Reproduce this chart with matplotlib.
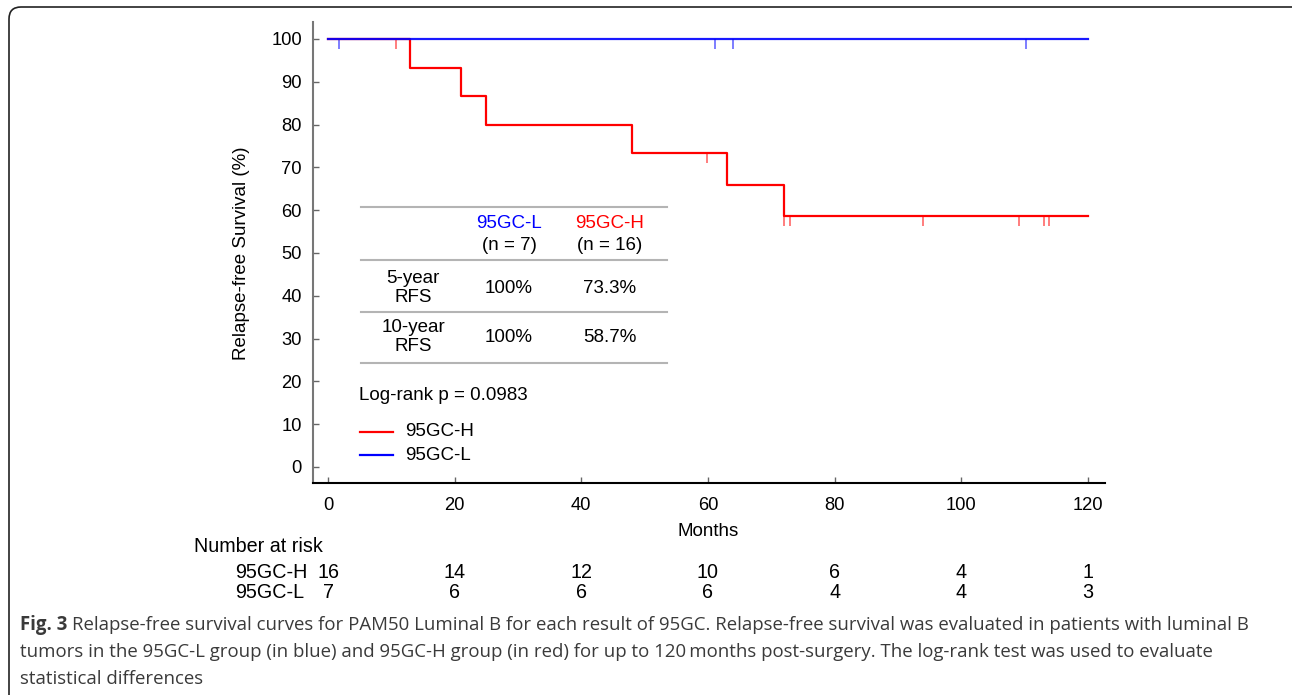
import matplotlib
matplotlib.use("Agg")
import matplotlib.pyplot as plt
from matplotlib.lines import Line2D
from matplotlib.patches import FancyBboxPatch
from matplotlib.transforms import IdentityTransform, blended_transform_factory

# --- data ---
h_times = [0, 13, 21, 25, 48, 63, 72, 120]
h_surv = [100, 93.3, 86.7, 80.0, 73.3, 66.0, 58.7, 58.7]
h_cens_t = [10.8, 59.9, 72, 73, 94, 109.1, 113, 113.9]
h_cens_s = [100, 73.3, 58.7, 58.7, 58.7, 58.7, 58.7, 58.7]

l_times = [0, 120]
l_surv = [100, 100]
l_cens_t = [1.7, 61.1, 64, 110.2]
l_cens_s = [100, 100, 100, 100]

risk_times = [0, 20, 40, 60, 80, 100, 120]
risk_h = [16, 14, 12, 10, 6, 4, 1]
risk_l = [7, 6, 6, 6, 4, 4, 3]

tab_groups = ["95GC-L", "95GC-H"]
tab_n = ["(n = 7)", "(n = 16)"]
tab_rows = ["5-year\nRFS", "10-year\nRFS"]
tab_vals = [["100%", "73.3%"], ["100%", "58.7%"]]
logrank = "Log-rank p = 0.0983"

caption = ["Relapse-free survival curves for PAM50 Luminal B for each result of 95GC. Relapse-free survival was evaluated in patients with luminal B",
           "tumors in the 95GC-L group (in blue) and 95GC-H group (in red) for up to 120\u2009months post-surgery. The log-rank test was used to evaluate",
           "statistical differences"]

RED = "#FF0000"; BLUE = "#0000FF"; GRAY = "#B4B4B4"
W, H = 1292, 695
plt.rcParams.update({"font.family": ["Liberation Sans", "DejaVu Sans"], "font.size": 13.5})

def px(x, y):
    return x / W, 1 - y / H

fig = plt.figure(figsize=(W / 100, H / 100), dpi=100)
ax = fig.add_axes([313 / W, 1 - 483 / H, (1105 - 313) / W, (483 - 22) / H])

ax.step(h_times, h_surv, where="post", color=RED, lw=1.6, zorder=3)
ax.step(l_times, l_surv, where="post", color=BLUE, lw=1.6, alpha=0.9, zorder=4)
ax.vlines(h_cens_t, [s - 2.3 for s in h_cens_s], h_cens_s, color=RED, alpha=0.55, lw=1.3)
ax.vlines(l_cens_t, [s - 2.3 for s in l_cens_s], l_cens_s, color=BLUE, alpha=0.55, lw=1.3)

ax.set_xlim(-2.37, 122.7); ax.set_ylim(-3.74, 103.97)
ax.set_xticks(range(0, 121, 20)); ax.set_yticks(range(0, 101, 10))
ax.tick_params(direction="in", length=4, width=1, colors="#666666", labelcolor="black", labelsize=13.2)
ax.tick_params(axis="x", pad=10); ax.tick_params(axis="y", pad=8)
for s in ("top", "right"): ax.spines[s].set_visible(False)
ax.spines["left"].set_color("#777777"); ax.spines["left"].set_linewidth(1.5)
ax.spines["bottom"].set_color("black"); ax.spines["bottom"].set_linewidth(1.5)

fig.text(*px(242, 253), "Relapse-free Survival (%)", rotation=90, ha="center", va="center")
fig.text(*px(708, 532), "Months", ha="center", va="center")

# inset table
for y in (207, 260, 312, 363):
    fig.add_artist(Line2D([361 / W, 667 / W], [1 - y / H] * 2, color=GRAY, lw=1.5))
col_x = [509, 610]
for i, g in enumerate(tab_groups):
    fig.text(*px(col_x[i], 224), g, ha="center", va="center", color=[BLUE, RED][i])
    fig.text(*px(col_x[i], 245), tab_n[i], ha="center", va="center")
for r, ry in enumerate((288, 337)):
    fig.text(*px(413, ry), tab_rows[r], ha="center", va="center", linespacing=1.1)
    for i in range(2):
        fig.text(*px(col_x[i], ry), tab_vals[r][i], ha="center", va="center")
fig.text(*px(359, 395), logrank, ha="left", va="center")

# legend
for y, c, lab in ((432, RED, "95GC-H"), (455, BLUE, "95GC-L")):
    fig.add_artist(Line2D([360 / W, 393 / W], [1 - y / H] * 2, color=c, lw=1.6))
    fig.text(*px(405, y), lab, ha="left", va="center")

# number at risk
tr = blended_transform_factory(ax.transData, fig.transFigure)
rk = dict(fontsize=14.2, va="center")
fig.text(*px(194, 547), "Number at risk", ha="left", **rk)
fig.text(*px(235, 573), "95GC-H", ha="left", **rk)
fig.text(*px(235, 593), "95GC-L", ha="left", **rk)
for t, a, b in zip(risk_times, risk_h, risk_l):
    ax.text(t, 1 - 573 / H, str(a), transform=tr, ha="center", **rk)
    ax.text(t, 1 - 593 / H, str(b), transform=tr, ha="center", **rk)

# caption
cap_kw = dict(family=["Open Sans", "DejaVu Sans"], fontsize=13.4, color="#3a3a3a", va="center")
fig.canvas.draw()
fig_lbl = fig.text(*px(20, 625), "Fig. 3", fontweight="bold", ha="left", **cap_kw)
bb = fig_lbl.get_window_extent(fig.canvas.get_renderer())
fig.text((bb.x1 + 5) / W, 1 - 625 / H, caption[0], ha="left", **cap_kw)
fig.text(*px(20, 652), caption[1], ha="left", **cap_kw)
fig.text(*px(20, 679), caption[2], ha="left", **cap_kw)

frame = FancyBboxPatch((9, -40), 1320, 688 + 40, boxstyle="round,pad=0,rounding_size=12",
                       transform=IdentityTransform(), fill=False, ec="#222222", lw=1.2)
fig.add_artist(frame)

fig.savefig("out.png", dpi=100)
